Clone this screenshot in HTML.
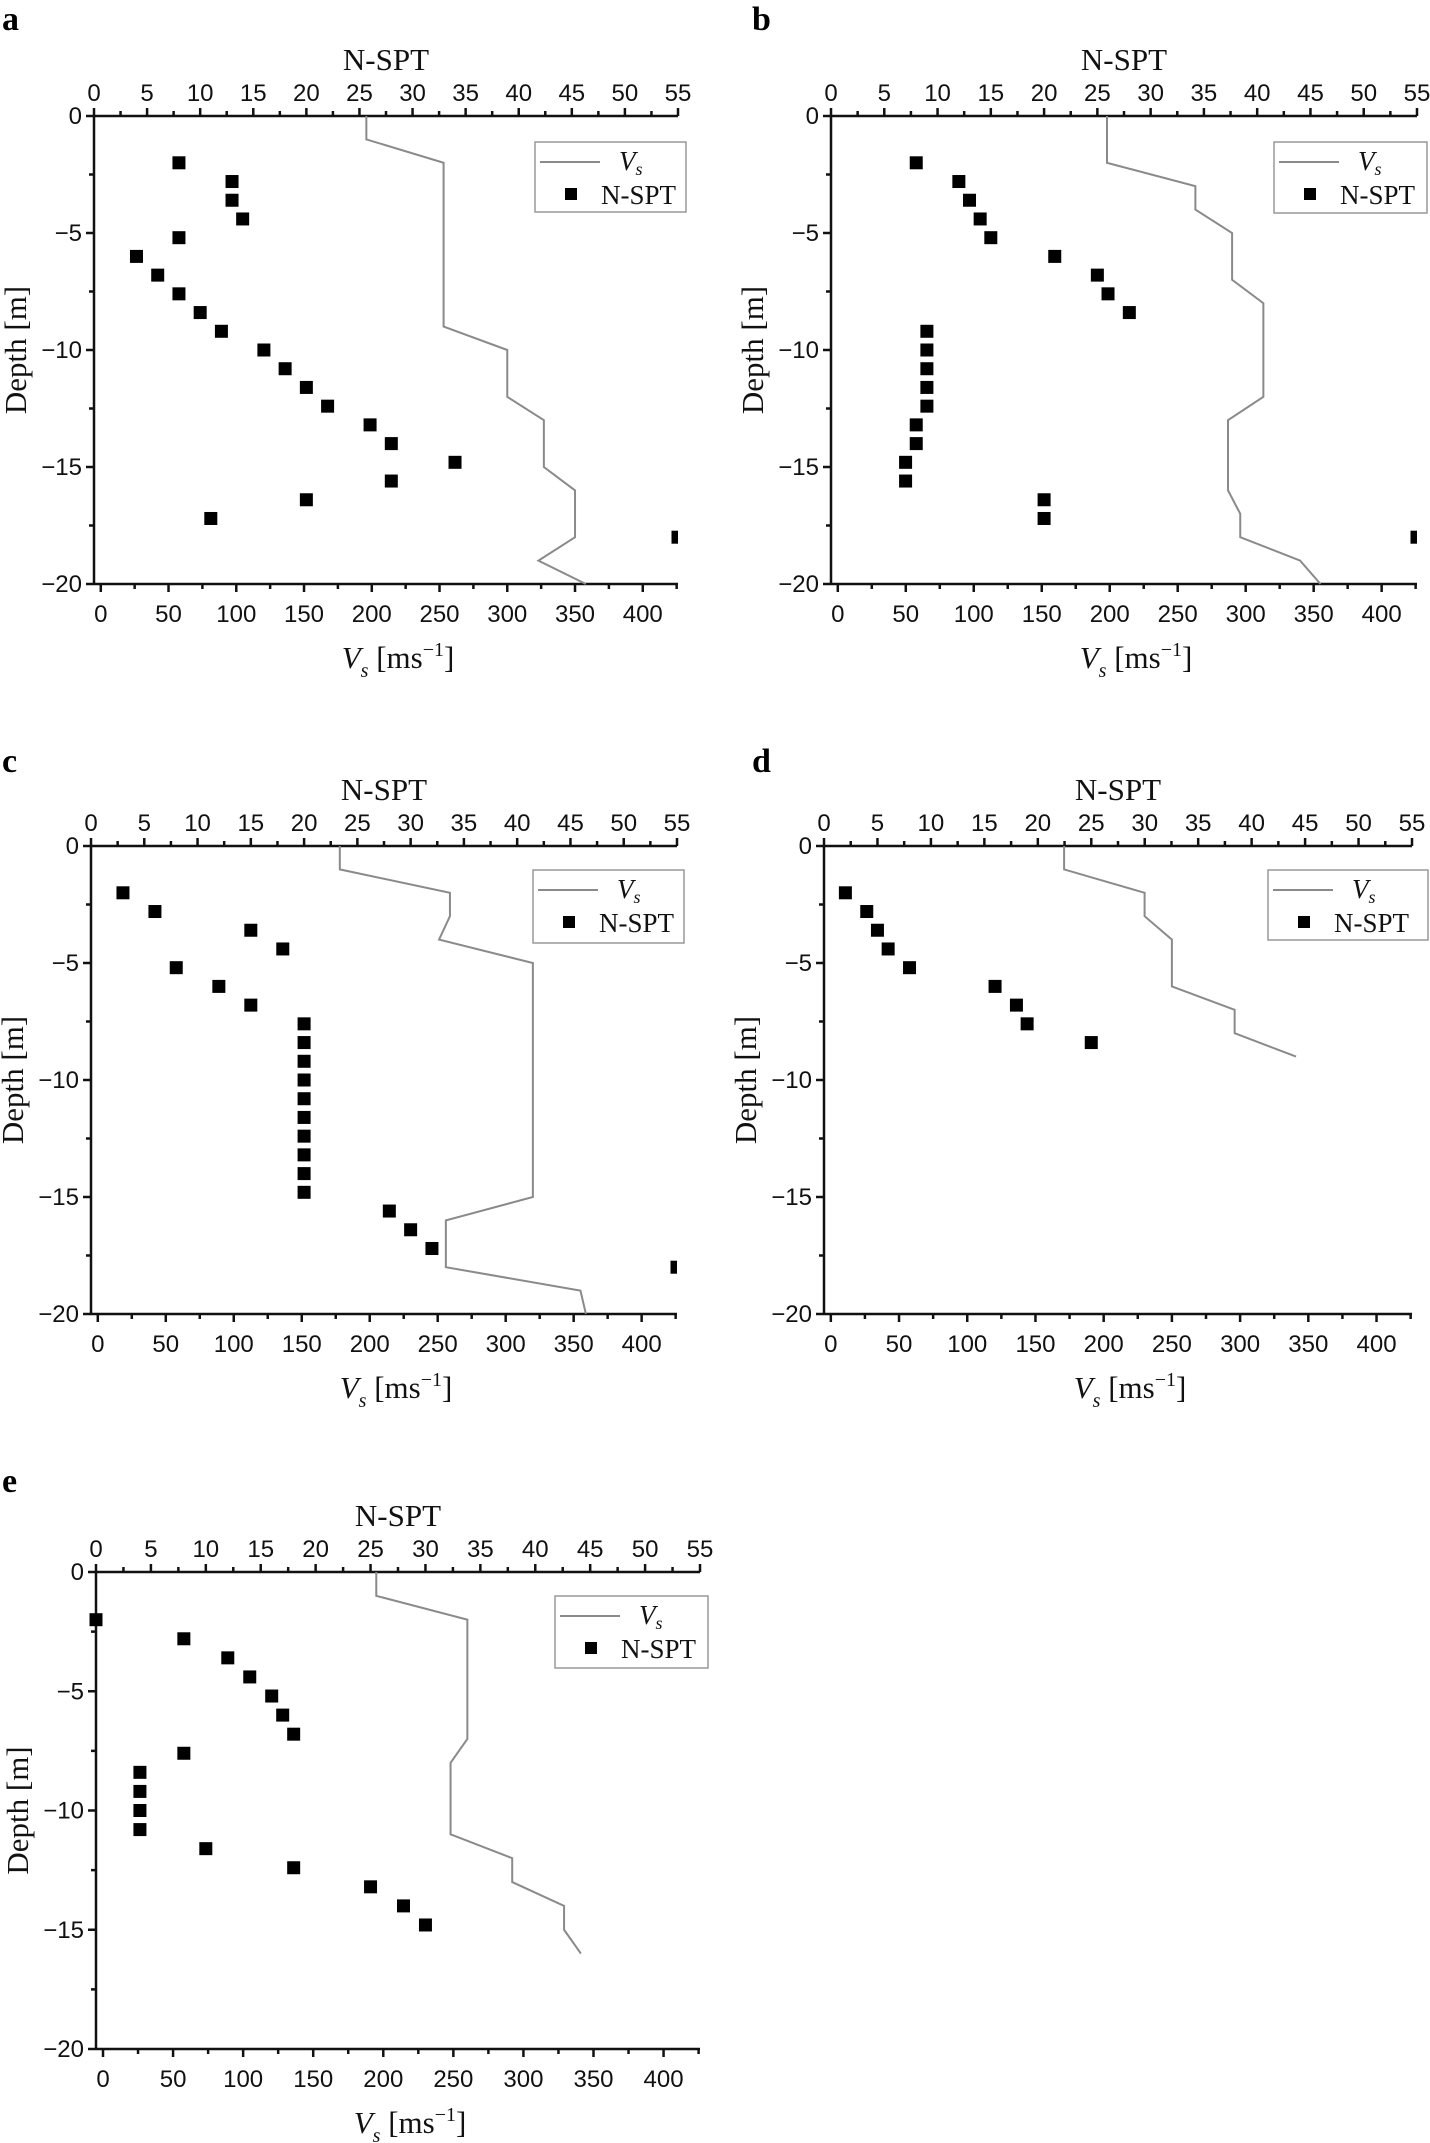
<!DOCTYPE html>
<html><head><meta charset="utf-8"><style>
html,body{margin:0;padding:0;background:#fff;}
svg{display:block;}
.tk{font-family:"Liberation Sans",sans-serif;font-size:24px;fill:#111;}
.ti{font-family:"Liberation Serif",serif;font-size:31px;fill:#111;}
.lg{font-family:"Liberation Serif",serif;font-size:27px;fill:#111;}
.pl{font-family:"Liberation Serif",serif;font-size:34px;font-weight:bold;fill:#000;}
</style></head><body>
<svg id="fig" xmlns="http://www.w3.org/2000/svg" width="1430" height="2143" viewBox="0 0 1430 2143"></svg>
<script>
// ---- data ----
const depthTicks = [0, -5, -10, -15, -20];
const nTicks = [0,5,10,15,20,25,30,35,40,45,50,55];
const vsTicks = [0,50,100,150,200,250,300,350,400];

const aNDepth = [-2,-2.8,-3.6,-4.4,-5.2,-6,-6.8,-7.6,-8.4,-9.2,-10,-10.8,-11.6,-12.4,-13.2,-14,-14.8,-15.6,-16.4,-17.2,-18];
const aN = [8,13,13,14,8,4,6,8,10,12,16,18,20,22,26,28,34,28,20,11,55];
const aVsDepth = [0,-1,-2,-9,-10,-12,-13,-15,-16,-18,-19,-20];
const aVs = [196,196,253,253,300,300,327,327,350,350,323,358];

const bNDepth = [-2,-2.8,-3.6,-4.4,-5.2,-6,-6.8,-7.6,-8.4,-9.2,-10,-10.8,-11.6,-12.4,-13.2,-14,-14.8,-15.6,-16.4,-17.2,-18];
const bN = [8,12,13,14,15,21,25,26,28,9,9,9,9,9,8,8,7,7,20,20,55];
const bVsDepth = [0,-2,-3,-4,-5,-7,-8,-12,-13,-16,-17,-18,-19,-20];
const bVs = [198,198,263,263,290,290,313,313,287,287,296,296,340,355];

const cNDepth = [-2,-2.8,-3.6,-4.4,-5.2,-6,-6.8,-7.6,-8.4,-9.2,-10,-10.8,-11.6,-12.4,-13.2,-14,-14.8,-15.6,-16.4,-17.2,-18];
const cN = [3,6,15,18,8,12,15,20,20,20,20,20,20,20,20,20,20,28,30,32,55];
const cVsDepth = [0,-1,-2,-3,-4,-5,-15,-16,-18,-19,-20];
const cVs = [178,178,259,259,251,320,320,256,256,355,359];

const dNDepth = [-2,-2.8,-3.6,-4.4,-5.2,-6,-6.8,-7.6,-8.4];
const dN = [2,4,5,6,8,16,18,19,25];
const dVsDepth = [0,-1,-2,-3,-4,-6,-7,-8,-9];
const dVs = [171,171,230,230,250,250,296,296,341];

const eNDepth = [-2,-2.8,-3.6,-4.4,-5.2,-6,-6.8,-7.6,-8.4,-9.2,-10,-10.8,-11.6,-12.4,-13.2,-14,-14.8];
const eN = [0,8,12,14,16,17,18,8,4,4,4,4,10,18,25,28,30];
const eVsDepth = [0,-1,-2,-7,-8,-11,-12,-13,-14,-15,-16];
const eVs = [195,195,260,260,248,248,292,292,329,329,341];

const panels = [
 {id:'a', L:94, R:678, T:116, B:584, lx:2, ly:30, nd:aNDepth, n:aN, vd:aVsDepth, vs:aVs, leg:[535,142,151,70]},
 {id:'b', L:831, R:1417, T:116, B:584, lx:752, ly:30, nd:bNDepth, n:bN, vd:bVsDepth, vs:bVs, leg:[1274,142,153,71]},
 {id:'c', L:91, R:677, T:846, B:1314, lx:2, ly:772, nd:cNDepth, n:cN, vd:cVsDepth, vs:cVs, leg:[533,870,151,73]},
 {id:'d', L:824, R:1412, T:846, B:1314, lx:752, ly:772, nd:dNDepth, n:dN, vd:dVsDepth, vs:dVs, leg:[1268,870,160,70]},
 {id:'e', L:96, R:700, T:1572, B:2049, lx:2, ly:1492, nd:eNDepth, n:eN, vd:eVsDepth, vs:eVs, leg:[555,1596,153,72]}
];
const VSMIN=-5, VSMAX=426, NMAX=55;
const NS="http://www.w3.org/2000/svg";
const svg=document.getElementById('fig');
function mk(tag,attrs,parent,text){const e=document.createElementNS(NS,tag);for(const k in attrs)e.setAttribute(k,attrs[k]);if(text!==undefined)e.textContent=text;(parent||svg).appendChild(e);return e;}

panels.forEach(p=>{
  const g=mk('g',{});
  
  
  const xN=v=>p.L+(v/NMAX)*(p.R-p.L);
  const xV=v=>p.L+(v-VSMIN)/(VSMAX-VSMIN)*(p.R-p.L);
  const yD=d=>p.T+(-d/20)*(p.B-p.T);
  const lab=mk('text',{x:p.lx,y:p.ly,class:'pl'},g,p.id);
  
  
  const ax=mk('g',{stroke:'#111','stroke-width':2.5,fill:'none'},g);
  
  
  mk('line',{x1:p.L,y1:p.T,x2:p.R,y2:p.T},ax);
  mk('line',{x1:p.L,y1:p.B,x2:p.R,y2:p.B},ax);
  mk('line',{x1:p.L,y1:p.T,x2:p.L,y2:p.B},ax);
  nTicks.forEach(t=>{const x=xN(t);mk('line',{x1:x,y1:p.T,x2:x,y2:p.T-8},ax);
    const tx=mk('text',{x:x,y:p.T-15,class:'tk','text-anchor':'middle'},g,String(t));
    
    
    if(t<55){mk('line',{x1:xN(t+2.5),y1:p.T,x2:xN(t+2.5),y2:p.T-5},ax);} });
  vsTicks.forEach(t=>{const x=xV(t);mk('line',{x1:x,y1:p.B,x2:x,y2:p.B+8},ax);
    const tx=mk('text',{x:x,y:p.B+38,class:'tk','text-anchor':'middle'},g,String(t));
    
    
    if(xV(t+25)<=p.R)mk('line',{x1:xV(t+25),y1:p.B,x2:xV(t+25),y2:p.B+5},ax);});
  depthTicks.forEach(t=>{const y=yD(t);mk('line',{x1:p.L,y1:y,x2:p.L-8,y2:y},ax);
    const tx=mk('text',{x:p.L-12,y:y+8,class:'tk','text-anchor':'end'},g,t===0?'0':'\u2212'+(-t));
    
    
    if(t>-20)mk('line',{x1:p.L,y1:yD(t-2.5),x2:p.L-5,y2:yD(t-2.5)},ax);});
  const nt=mk('text',{x:(p.L+p.R)/2,y:p.T-46,class:'ti','text-anchor':'middle','font-size':27},g,'N-SPT');
  
  
  const yt=mk('text',{x:0,y:0,class:'ti','text-anchor':'middle',transform:`translate(${p.L-68},${(p.T+p.B)/2}) rotate(-90)`},g,'Depth [m]');
  
  
  const xt=mk('text',{x:(p.L+p.R)/2+12,y:p.B+84,class:'ti','text-anchor':'middle'},g);
  
  
  mk('tspan',{'font-style':'italic'},xt,'V');
  mk('tspan',{'font-style':'italic','font-size':20,dy:9},xt,'s');
  mk('tspan',{dy:-9},xt,' [ms');
  mk('tspan',{'font-size':20,dy:-12},xt,'\u22121');
  mk('tspan',{dy:12},xt,']');
  const pts=p.vs.map((v,i)=>xV(v)+','+yD(p.vd[i])).join(' ');
  const pl=mk('polyline',{points:pts,fill:'none',stroke:'#8a8a8a','stroke-width':2},g);
  
  
  const cid='clip'+p.id;
  const cp=mk('clipPath',{id:cid},g);mk('rect',{x:p.L-10,y:p.T-10,width:p.R-p.L+10,height:p.B-p.T+20},cp);
  const sg=mk('g',{'clip-path':`url(#${cid})`},g);
  
  
  p.n.forEach((v,i)=>{const r=mk('rect',{x:xN(v)-6.5,y:yD(p.nd[i])-6.5,width:13,height:13,fill:'#000'},sg);
    
    });
  const [lx,ly,lw,lh]=p.leg;
  const lg=mk('g',{},g);
  
  
  mk('rect',{x:lx,y:ly,width:lw,height:lh,fill:'#fff',stroke:'#999','stroke-width':1.5},lg);
  mk('line',{x1:lx+5,y1:ly+20,x2:lx+65,y2:ly+20,stroke:'#8a8a8a','stroke-width':2},lg);
  const lt=mk('text',{x:lx+84,y:ly+28,class:'lg'},lg);
  mk('tspan',{'font-style':'italic'},lt,'V');
  mk('tspan',{'font-style':'italic','font-size':18,dy:5},lt,'s');
  mk('rect',{x:lx+30,y:ly+46,width:12,height:12,fill:'#000'},lg);
  mk('text',{x:lx+66,y:ly+62,class:'lg'},lg,'N-SPT');
});
</script>
</body></html>
